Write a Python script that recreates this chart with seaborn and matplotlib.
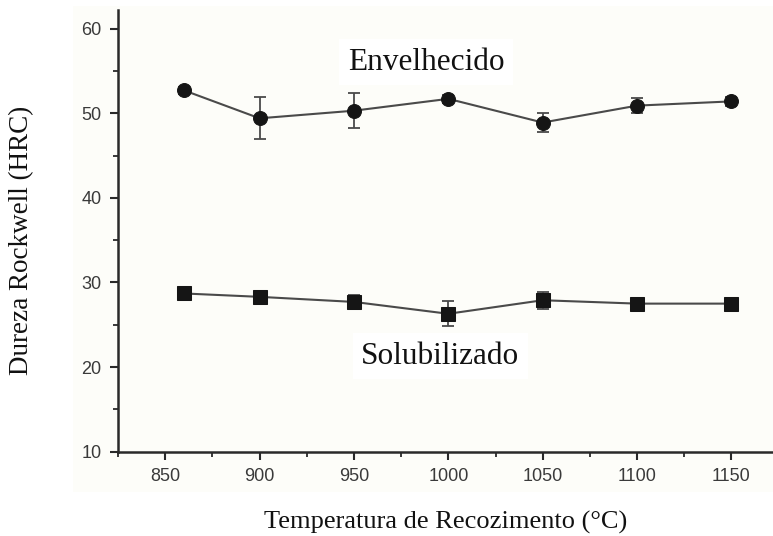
import matplotlib
matplotlib.use("Agg")
import matplotlib.pyplot as plt
from matplotlib.patches import Rectangle
from matplotlib.ticker import MultipleLocator
import numpy as np
import pandas as pd
import seaborn as sns

# Annealing temperature (°C)
temperatura = [860, 900, 950, 1000, 1050, 1100, 1150]

# Rockwell C hardness, aged condition
envelhecido = [52.7, 49.4, 50.3, 51.7, 48.9, 50.9, 51.4]
envelhecido_err = [0.4, 2.5, 2.1, 0.5, 1.1, 0.9, 0.5]

# Rockwell C hardness, solution-treated condition
solubilizado = [28.7, 28.3, 27.7, 26.3, 27.9, 27.5, 27.5]
solubilizado_err = [0.6, 0.7, 0.8, 1.5, 1.0, 0.3, 0.3]

x_ticks = [850, 900, 950, 1000, 1050, 1100, 1150]
y_ticks = [10, 20, 30, 40, 50, 60]

df = pd.DataFrame({
    "temperatura": temperatura * 2,
    "dureza": envelhecido + solubilizado,
    "erro": envelhecido_err + solubilizado_err,
    "condicao": ["Envelhecido"] * len(temperatura) + ["Solubilizado"] * len(temperatura),
})

sns.set_theme(style="ticks")
plt.rcParams["font.family"] = ["Liberation Sans", "DejaVu Sans"]

W, H = 773, 536
fig = plt.figure(figsize=(W / 100, H / 100), dpi=100)
fig.patch.set_facecolor("white")

# faint cream panel behind the plotting area and tick labels
bg = fig.add_axes([0, 0, 1, 1], zorder=-5)
bg.set_axis_off()
bg.set_xlim(0, W)
bg.set_ylim(H, 0)
bg.add_patch(Rectangle((73, 6), W - 73, 492 - 6, facecolor="#fdfdf9", edgecolor="none"))

ax = fig.add_axes([118 / W, 1 - 451.7 / H, (W - 118) / W, (451.7 - 10) / H], zorder=1)
ax.patch.set_alpha(0)

sns.lineplot(data=df, x="temperatura", y="dureza", style="condicao",
             markers={"Envelhecido": "o", "Solubilizado": "s"},
             dashes=False, color="#4a4a4a", linewidth=1.5,
             markersize=10, markerfacecolor="#151515", markeredgecolor="#151515",
             legend=False, ax=ax, zorder=3)

for cond in ["Envelhecido", "Solubilizado"]:
    sub = df[df["condicao"] == cond]
    ax.errorbar(sub["temperatura"], sub["dureza"], yerr=sub["erro"], fmt="none",
                ecolor="#4a4a4a", elinewidth=1.3, capsize=4, capthick=1.3, zorder=2)

ax.set_xlim(825, 1172)
ax.set_ylim(10, 62.2)
ax.set_xticks(x_ticks)
ax.set_yticks(y_ticks)
ax.xaxis.set_minor_locator(MultipleLocator(25))
ax.yaxis.set_minor_locator(MultipleLocator(5))

for side in ["top", "right"]:
    ax.spines[side].set_visible(False)
for side in ["left", "bottom"]:
    ax.spines[side].set_linewidth(1.8)
    ax.spines[side].set_color("#2a2a2a")

ax.tick_params(axis="both", which="major", direction="out", length=6, width=1.5,
               color="#2a2a2a", labelsize=13, labelcolor="#3a3a3a", pad=6)
ax.tick_params(axis="both", which="minor", direction="out", length=3.5, width=1.3,
               color="#2a2a2a")

ax.set_xlabel("")
ax.set_ylabel("")

serif = ["Liberation Serif", "DejaVu Serif"]
fig.text(446 / W, 1 - 522 / H, "Temperatura de Recozimento (°C)", family=serif,
         fontsize=19, ha="center", va="center", color="#111111")
fig.text(22 / W, 1 - 240 / H, "Dureza Rockwell (HRC)", family=serif,
         fontsize=19.5, ha="center", va="center", rotation=90, color="#111111")

box = dict(facecolor="white", edgecolor="none", pad=6)
fig.text(426 / W, 1 - 62 / H, "Envelhecido", family=serif, fontsize=22.5,
         ha="center", va="center", color="#111111", bbox=box)
fig.text(440 / W, 1 - 356 / H, "Solubilizado", family=serif, fontsize=22.5,
         ha="center", va="center", color="#111111", bbox=box)

fig.savefig("out.png", dpi=100, facecolor="white")
